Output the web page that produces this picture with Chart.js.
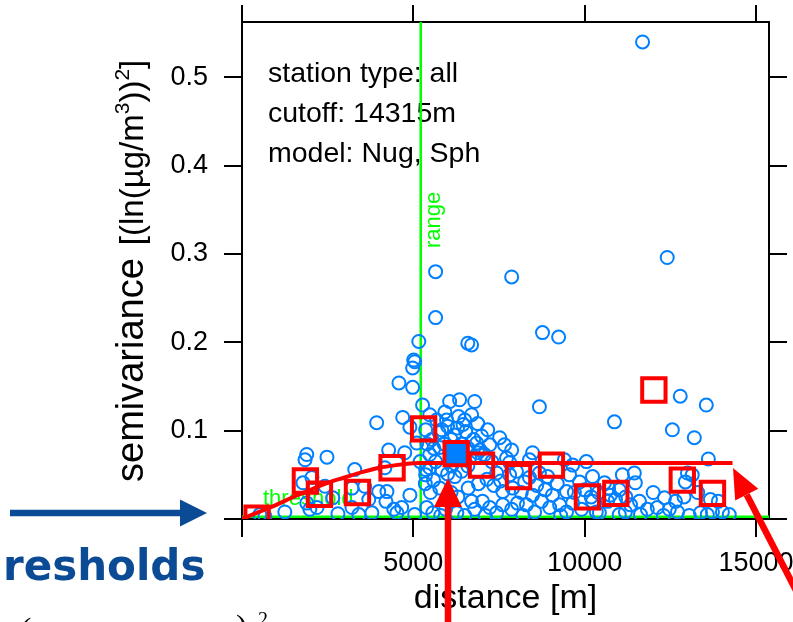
<!DOCTYPE html>
<html lang="en">
<head>
<meta charset="UTF-8" />
<title>Variogram</title>
<script src="https://cdn.jsdelivr.net/npm/chart.js@4.4.1/dist/chart.umd.min.js"></script>
<style>
  body { margin: 0; background: #fff; }
  canvas { display: block; }
</style>
</head>
<body>
<canvas id="vgChart" width="793" height="622"></canvas>
<script>
  // variogram cloud: distance of each station pair [m] and its semivariance
  const cloudDist = [
    11690, 12410, 7870, 5650, 5650, 8770, 9240, 6590, 6700, 5160,
    5010, 5040, 4980, 4580, 4980, 5270, 4690, 3930, 4900, 5100,
    4280, 4750, 6060, 6350, 6790, 8680, 5970, 6320, 6880, 10870,
    12560, 12790, 13550, 13200, 13610, 1890, 1840, 2480, 3290, 4170,
    1780, 2040, 2420, 3210, 3580, 3990, 4230, 4900, 1890, 1980,
    2190, 3210, 3410, 4430, 4520, 4660, 5040, 520, 670, 2800,
    3790, 1250, 5480, 5680, 5920, 6500, 6700, 7170, 5830, 6290,
    6530, 6760, 6990, 7230, 5540, 5770, 5480, 5650, 5360, 5590,
    5830, 7080, 7290, 7660, 7870, 6000, 6210, 6410, 6590, 6120,
    6640, 5360, 5360, 5480, 7520, 6850, 6880, 7720, 7810, 8390,
    8480, 9650, 10050, 7430, 8010, 8390, 8680, 8920, 9560, 10230,
    5770, 7610, 8480, 9060, 9470, 7810, 5390, 5570, 6270, 6700,
    6790, 7020, 7230, 7430, 7610, 7870, 8040, 8300, 8540, 8740,
    8980, 9270, 9470, 9650, 9910, 10230, 10340, 5940, 6500, 11100,
    11450, 11480, 10580, 10750, 10670, 10900, 11340, 11190, 13000, 12940,
    13140, 12330, 12650, 12120, 12470, 12710, 11830, 11630, 13380, 13670,
    13730, 14020, 13580, 10430, 11010, 13050, 14220, 10000, 10190, 11010,
    8250, 9410, 6100, 6200, 6000, 5900, 6400, 6600, 6450, 5750,
    5600, 5400, 6800, 6950, 5200, 5350, 5500, 6100, 6300, 6600,
    6900, 7150, 7350, 7550, 7900, 8150, 8600, 8850, 9200, 9700,
    9850, 10400, 10700, 11200, 11600, 12000, 12900, 13300, 13900, 5800,
    7100, 8200, 9300, 12300, 4200, 3700, 2650
  ];
  const cloudGamma = [
    0.540, 0.296, 0.274, 0.280, 0.228, 0.211, 0.206, 0.199, 0.197, 0.201,
    0.180, 0.178, 0.171, 0.154, 0.149, 0.129, 0.115, 0.109, 0.104, 0.086,
    0.078, 0.075, 0.133, 0.135, 0.133, 0.127, 0.112, 0.116, 0.108, 0.110,
    0.101, 0.139, 0.129, 0.092, 0.068, 0.073, 0.067, 0.070, 0.056, 0.058,
    0.041, 0.047, 0.037, 0.035, 0.037, 0.031, 0.031, 0.027, 0.018, 0.011,
    0.013, 0.013, 0.005, 0.011, 0.007, 0.013, 0.005, 0.005, 0.003, 0.006,
    0.007, 0.008, 0.118, 0.112, 0.121, 0.112, 0.118, 0.101, 0.101, 0.103,
    0.099, 0.090, 0.094, 0.084, 0.090, 0.081, 0.073, 0.065, 0.050, 0.044,
    0.056, 0.073, 0.065, 0.084, 0.078, 0.051, 0.048, 0.054, 0.060, 0.060,
    0.069, 0.101, 0.056, 0.058, 0.092, 0.086, 0.075, 0.069, 0.064, 0.067,
    0.075, 0.061, 0.065, 0.052, 0.054, 0.047, 0.052, 0.048, 0.050, 0.048,
    0.035, 0.031, 0.027, 0.027, 0.031, 0.050, 0.013, 0.007, 0.007, 0.020,
    0.011, 0.020, 0.013, 0.007, 0.016, 0.011, 0.018, 0.016, 0.008, 0.020,
    0.013, 0.016, 0.008, 0.018, 0.011, 0.020, 0.008, 0.011, 0.004, 0.050,
    0.052, 0.041, 0.041, 0.027, 0.020, 0.022, 0.016, 0.008, 0.052, 0.042,
    0.050, 0.024, 0.020, 0.013, 0.011, 0.008, 0.011, 0.005, 0.007, 0.022,
    0.008, 0.008, 0.005, 0.007, 0.005, 0.004, 0.005, 0.033, 0.025, 0.033,
    0.042, 0.067, 0.090, 0.095, 0.105, 0.085, 0.085, 0.080, 0.107, 0.098,
    0.080, 0.085, 0.070, 0.078, 0.065, 0.040, 0.030, 0.030, 0.025, 0.035,
    0.040, 0.045, 0.038, 0.043, 0.035, 0.030, 0.038, 0.033, 0.040, 0.030,
    0.042, 0.030, 0.035, 0.025, 0.020, 0.030, 0.025, 0.030, 0.020, 0.004,
    0.004, 0.004, 0.004, 0.004, 0.020, 0.022, 0.024
  ];

  // binned sample variogram
  const binDist = [440, 1850, 2260, 3370, 4380, 5300, 6250, 6990, 8070, 9030, 10080, 10910, 12020, 12850, 13730];
  const binGamma = [0.001, 0.043, 0.028, 0.030, 0.058, 0.102, 0.074, 0.061, 0.048, 0.061, 0.025, 0.029, 0.146, 0.044, 0.029];
  const densestBin = 6;

  // fitted Nug + Sph model, read along the curve up to the cutoff
  const modelDist = [0, 500, 1000, 1500, 2000, 2500, 3000, 3500, 4000, 4500, 5000, 5216, 14315];
  const modelGamma = [0.000, 0.008, 0.016, 0.025, 0.033, 0.041, 0.047, 0.053, 0.058, 0.061, 0.063, 0.0634, 0.0634];

  const rangeDist = 5216;
  const nuggetGamma = 0.0025;

  const xTicks = [0, 5000, 10000, 15000];
  const yTicks = [0, 0.1, 0.2, 0.3, 0.4, 0.5];
  const xMax = 15380;
  const yMax = 0.5626;

  const infoLines = ['station type: all', 'cutoff: 14315m', 'model: Nug, Sph'];

  const FONT = "'Liberation Sans', Arial, sans-serif";
  const BLUE = '#0080ff';
  const RED = '#ff0000';
  const GREEN = '#00ff00';

  const toXY = (xs, ys) => xs.map((v, i) => ({ x: v, y: ys[i] }));

  // text inside the panel, under the points
  const panelText = {
    id: 'panelText',
    beforeDatasetsDraw(chart) {
      const { ctx, chartArea: a, scales: { x, y } } = chart;
      ctx.save();
      ctx.fillStyle = '#000';
      ctx.font = `28.5px ${FONT}`;
      ctx.textBaseline = 'alphabetic';
      infoLines.forEach((t, i) => ctx.fillText(t, a.left + 26, a.top + 60 + i * 40));
      ctx.fillStyle = GREEN;
      ctx.font = `22px ${FONT}`;
      ctx.fillText('threshold', a.left + 21, y.getPixelForValue(nuggetGamma) - 12);
      ctx.translate(x.getPixelForValue(rangeDist) + 19, a.top + 226);
      ctx.rotate(-Math.PI / 2);
      ctx.fillText('range', 0, 0);
      ctx.restore();
    }
  };

  // y axis label with real superscripts, written bottom to top
  const yLabel = {
    id: 'yLabel',
    afterDraw(chart) {
      const ctx = chart.ctx;
      const parts = [
        ['semivariance', 38, 0],
        ['', 0, 13],
        ['[(ln(µg/m', 33, 0],
        ['3', 21, 14],
        ['))', 33, 0],
        ['2', 21, 14],
        [']', 33, 0]
      ];
      ctx.save();
      ctx.translate(143, 482);
      ctx.rotate(-Math.PI / 2);
      ctx.fillStyle = '#000';
      ctx.textBaseline = 'alphabetic';
      let pos = 0;
      parts.forEach(([t, size, rise]) => {
        if (!t) { pos += rise; return; }
        ctx.font = `${size}px ${FONT}`;
        ctx.fillText(t, pos, -rise);
        pos += ctx.measureText(t).width;
      });
      ctx.restore();
    }
  };

  function arrow(ctx, x0, y0, x1, y1, color, w, headLen, headHalf) {
    const len = Math.hypot(x1 - x0, y1 - y0);
    const ux = (x1 - x0) / len, uy = (y1 - y0) / len;
    const bx = x1 - ux * headLen, by = y1 - uy * headLen;
    ctx.strokeStyle = color;
    ctx.fillStyle = color;
    ctx.lineWidth = w;
    ctx.beginPath();
    ctx.moveTo(x0, y0);
    ctx.lineTo(bx, by);
    ctx.stroke();
    ctx.beginPath();
    ctx.moveTo(x1, y1);
    ctx.lineTo(bx - uy * headHalf, by + ux * headHalf);
    ctx.lineTo(bx + uy * headHalf, by - ux * headHalf);
    ctx.closePath();
    ctx.fill();
  }

  // slide markup drawn over the chart: arrows and caption
  const slideMarks = {
    id: 'slideMarks',
    afterDraw(chart) {
      const ctx = chart.ctx;
      ctx.save();
      arrow(ctx, 10, 513, 207, 513, '#0b4a94', 6.5, 27, 13.5);
      arrow(ctx, 448, 650, 448, 478, RED, 6.5, 29, 14);
      arrow(ctx, 805, 608, 733, 468, RED, 6.5, 30, 13);
      ctx.fillStyle = '#0b4a94';
      ctx.font = "bold 42px 'DejaVu Sans', Verdana, sans-serif";
      ctx.fillText('resholds', 3, 580);
      ctx.fillStyle = '#000';
      ctx.font = "34px 'Liberation Serif', serif";
      ctx.fillText('(', 20, 641);
      ctx.fillText(')', 236, 638);
      ctx.font = "20px 'Liberation Serif', serif";
      ctx.fillText('2', 258, 626);
      ctx.restore();
    }
  };

  const frame = { display: true, color: '#000', width: 2 };
  const marks = len => ({ drawOnChartArea: false, drawTicks: true, tickLength: len, color: '#000', lineWidth: 2 });
  const setTicks = list => scale => { scale.ticks = list.map(v => ({ value: v })); };

  const ctx = document.getElementById('vgChart').getContext('2d');
  const vgChart = new Chart(ctx, {
    type: 'scatter',
    data: {
      datasets: [
        {
          label: 'sample variogram',
          data: toXY(binDist, binGamma),
          pointStyle: 'rect',
          pointRadius: 16.5,
          pointHoverRadius: 16.5,
          pointBorderWidth: 4,
          pointBorderColor: RED,
          pointBackgroundColor: c => c.dataIndex === densestBin ? BLUE : 'rgba(0,0,0,0)',
          clip: 0,
          order: 0
        },
        {
          label: 'model',
          data: toXY(modelDist, modelGamma),
          showLine: true,
          borderColor: RED,
          borderWidth: 4,
          pointRadius: 0,
          cubicInterpolationMode: 'monotone',
          clip: 0,
          order: 1
        },
        {
          label: 'cloud',
          data: toXY(cloudDist, cloudGamma),
          pointStyle: 'circle',
          pointRadius: 6.5,
          pointHoverRadius: 6.5,
          pointBorderWidth: 2,
          pointBorderColor: BLUE,
          pointBackgroundColor: 'rgba(0,0,0,0)',
          clip: 0,
          order: 2
        },
        {
          label: 'range',
          data: [{ x: rangeDist, y: 0 }, { x: rangeDist, y: yMax }],
          showLine: true,
          borderColor: GREEN,
          borderWidth: 2.5,
          pointRadius: 0,
          clip: 0,
          order: 3
        },
        {
          label: 'threshold',
          data: [{ x: 0, y: nuggetGamma }, { x: xMax, y: nuggetGamma }],
          showLine: true,
          borderColor: GREEN,
          borderWidth: 2.5,
          pointRadius: 0,
          clip: 0,
          order: 3
        }
      ]
    },
    options: {
      responsive: false,
      animation: false,
      events: [],
      layout: { padding: 0 },
      plugins: { legend: { display: false }, tooltip: { enabled: false } },
      scales: {
        x: {
          type: 'linear',
          position: 'bottom',
          min: 0,
          max: xMax,
          afterBuildTicks: setTicks(xTicks),
          afterFit: s => { s.height = 103; s.paddingLeft = 0; s.paddingRight = 0; },
          ticks: {
            callback: v => v === 0 ? '' : String(v),
            font: { family: FONT, size: 27 },
            color: '#000',
            padding: 10,
            maxRotation: 0,
            minRotation: 0,
            autoSkip: false,
            includeBounds: false
          },
          grid: marks(18),
          border: frame,
          title: {
            display: true,
            text: 'distance [m]',
            font: { family: FONT, size: 34 },
            color: '#000',
            padding: { top: 0, bottom: 3 }
          }
        },
        xTop: {
          type: 'linear',
          position: 'top',
          min: 0,
          max: xMax,
          afterBuildTicks: setTicks(xTicks),
          afterFit: s => { s.height = 22; s.paddingLeft = 0; s.paddingRight = 0; },
          ticks: { display: false, includeBounds: false },
          grid: marks(17),
          border: frame
        },
        y: {
          type: 'linear',
          position: 'left',
          min: 0,
          max: yMax,
          afterBuildTicks: setTicks(yTicks),
          afterFit: s => { s.width = 242; s.paddingTop = 0; s.paddingBottom = 0; },
          ticks: {
            callback: v => v === 0 ? '' : v.toFixed(1),
            font: { family: FONT, size: 27 },
            color: '#000',
            padding: 16,
            autoSkip: false,
            includeBounds: false
          },
          grid: marks(18),
          border: frame
        },
        yRight: {
          type: 'linear',
          position: 'right',
          min: 0,
          max: yMax,
          afterBuildTicks: setTicks(yTicks),
          afterFit: s => { s.width = 24; s.paddingTop = 0; s.paddingBottom = 0; },
          ticks: { display: false, includeBounds: false },
          grid: marks(18),
          border: frame
        }
      }
    },
    plugins: [panelText, yLabel, slideMarks]
  });
</script>
</body>
</html>
